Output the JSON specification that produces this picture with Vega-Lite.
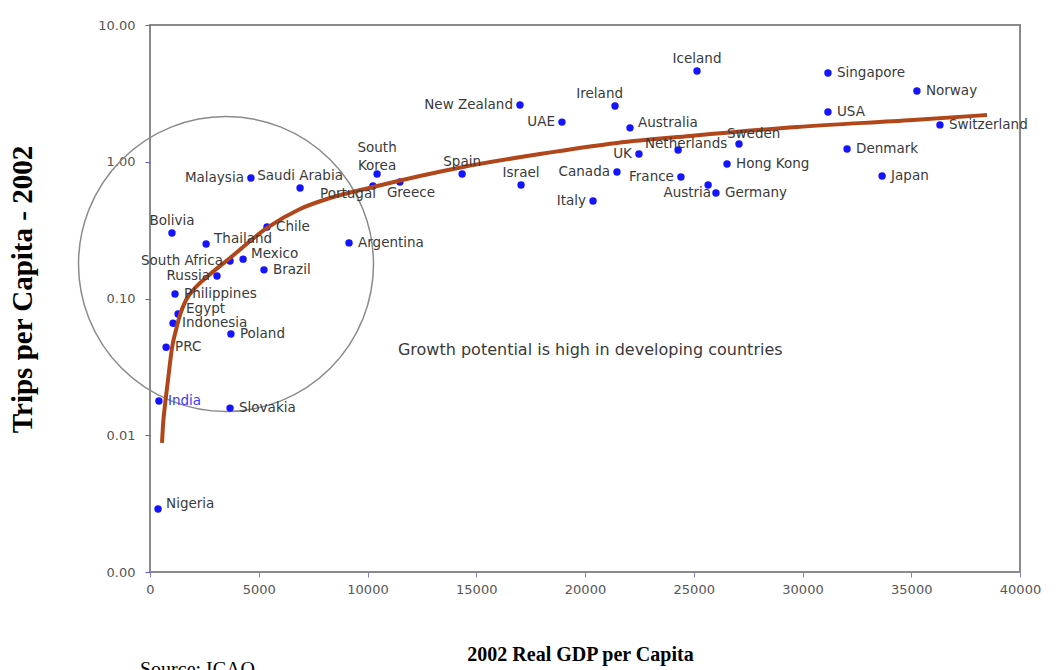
{
  "$schema": "https://vega.github.io/schema/vega-lite/v6.json",
  "width": 870,
  "height": 547,
  "autosize": {"type": "none"},
  "padding": {"left": 150, "top": 25, "right": 40, "bottom": 98},
  "background": "white",
  "title": {"text": "Source: ICAO", "orient": "bottom", "anchor": "start", "frame": "group", "font": "Liberation Serif", "fontSize": 20, "fontWeight": "normal", "color": "#000000", "offset": -4, "dx": -10},
  "config": {
    "view": {"stroke": "#8a8a8a", "strokeWidth": 2},
    "axis": {"grid": false, "domain": false}
  },
  "datasets": {
    "countries": [
      {"country": "Iceland", "gdp": 25150, "trips": 4.61, "side": "a"},
      {"country": "Singapore", "gdp": 31170, "trips": 4.46, "side": "r"},
      {"country": "Norway", "gdp": 35260, "trips": 3.29, "side": "r"},
      {"country": "New Zealand", "gdp": 17010, "trips": 2.60, "side": "l"},
      {"country": "Ireland", "gdp": 21380, "trips": 2.56, "side": "al"},
      {"country": "USA", "gdp": 31170, "trips": 2.31, "side": "r"},
      {"country": "UAE", "gdp": 18940, "trips": 1.95, "side": "l"},
      {"country": "Australia", "gdp": 22070, "trips": 1.77, "side": "ru"},
      {"country": "Switzerland", "gdp": 36320, "trips": 1.86, "side": "r"},
      {"country": "Sweden", "gdp": 27080, "trips": 1.35, "side": "ar"},
      {"country": "Netherlands", "gdp": 24280, "trips": 1.22, "side": "am"},
      {"country": "UK", "gdp": 22480, "trips": 1.14, "side": "l"},
      {"country": "Denmark", "gdp": 32050, "trips": 1.24, "side": "r"},
      {"country": "Hong Kong", "gdp": 26530, "trips": 0.963, "side": "r"},
      {"country": "Canada", "gdp": 21470, "trips": 0.841, "side": "l"},
      {"country": "France", "gdp": 24410, "trips": 0.774, "side": "l"},
      {"country": "Japan", "gdp": 33660, "trips": 0.787, "side": "r"},
      {"country": "Austria", "gdp": 25660, "trips": 0.676, "side": "bl"},
      {"country": "Germany", "gdp": 26020, "trips": 0.591, "side": "r"},
      {"country": "Italy", "gdp": 20370, "trips": 0.516, "side": "l"},
      {"country": "Israel", "gdp": 17060, "trips": 0.676, "side": "a"},
      {"country": "Spain", "gdp": 14350, "trips": 0.814, "side": "a"},
      {"country": "Greece", "gdp": 11490, "trips": 0.711, "side": "br"},
      {"country": "Portugal", "gdp": 10250, "trips": 0.665, "side": "bl"},
      {"country": "South Korea", "gdp": 10440, "trips": 0.814, "side": "a2"},
      {"country": "Saudi Arabia", "gdp": 6900, "trips": 0.643, "side": "a"},
      {"country": "Malaysia", "gdp": 4640, "trips": 0.761, "side": "l"},
      {"country": "Argentina", "gdp": 9150, "trips": 0.255, "side": "r"},
      {"country": "Chile", "gdp": 5380, "trips": 0.333, "side": "r"},
      {"country": "Bolivia", "gdp": 1010, "trips": 0.301, "side": "a"},
      {"country": "Thailand", "gdp": 2580, "trips": 0.250, "side": "ru"},
      {"country": "Mexico", "gdp": 4280, "trips": 0.194, "side": "ru"},
      {"country": "South Africa", "gdp": 3680, "trips": 0.188, "side": "l"},
      {"country": "Brazil", "gdp": 5240, "trips": 0.162, "side": "r"},
      {"country": "Russia", "gdp": 3080, "trips": 0.146, "side": "l"},
      {"country": "Philippines", "gdp": 1150, "trips": 0.108, "side": "r"},
      {"country": "Egypt", "gdp": 1290, "trips": 0.077, "side": "ru"},
      {"country": "Indonesia", "gdp": 1060, "trips": 0.066, "side": "r"},
      {"country": "Poland", "gdp": 3720, "trips": 0.055, "side": "r"},
      {"country": "PRC", "gdp": 740, "trips": 0.044, "side": "r"},
      {"country": "India", "gdp": 410, "trips": 0.0178, "side": "r"},
      {"country": "Slovakia", "gdp": 3680, "trips": 0.0158, "side": "r"},
      {"country": "Nigeria", "gdp": 370, "trips": 0.00289, "side": "ru"}
    ],
    "fit": [
      {"gdp": 552, "trips": 0.00878},
      {"gdp": 598, "trips": 0.01189},
      {"gdp": 690, "trips": 0.01664},
      {"gdp": 828, "trips": 0.02535},
      {"gdp": 1011, "trips": 0.04345},
      {"gdp": 1195, "trips": 0.05884},
      {"gdp": 1379, "trips": 0.07572},
      {"gdp": 1655, "trips": 0.0975},
      {"gdp": 2069, "trips": 0.1193},
      {"gdp": 2667, "trips": 0.1461},
      {"gdp": 3678, "trips": 0.1978},
      {"gdp": 5379, "trips": 0.3279},
      {"gdp": 6897, "trips": 0.4514},
      {"gdp": 8276, "trips": 0.5431},
      {"gdp": 10253, "trips": 0.6536},
      {"gdp": 14391, "trips": 0.9155},
      {"gdp": 17931, "trips": 1.1394},
      {"gdp": 21471, "trips": 1.3714},
      {"gdp": 24828, "trips": 1.5427},
      {"gdp": 29747, "trips": 1.7955},
      {"gdp": 35080, "trips": 2.0198},
      {"gdp": 38483, "trips": 2.1976}
    ],
    "ring": [{"gdp": 3494, "trips": 0.1788}],
    "note": [{"gdp": 11400, "trips": 0.042, "text": "Growth potential is high in developing countries"}]
  },
  "encoding": {
    "x": {
      "field": "gdp", "type": "quantitative",
      "scale": {"domain": [0, 40000], "nice": false, "zero": false},
      "axis": {
        "title": "2002 Real GDP per Capita",
        "values": [0, 5000, 10000, 15000, 20000, 25000, 30000, 35000, 40000],
        "format": "d", "labelFlush": false,
        "labelFont": "DejaVu Sans", "labelFontSize": 13, "labelColor": "#555555", "labelPadding": 6,
        "tickColor": "#7f7fd0", "tickSize": 5,
        "titleFont": "Liberation Serif", "titleFontSize": 20, "titleFontWeight": "bold", "titleColor": "#000000", "titlePadding": 48, "titleX": 430
      }
    },
    "y": {
      "field": "trips", "type": "quantitative",
      "scale": {"type": "log", "domain": [0.001, 10], "nice": false},
      "axis": {
        "title": "Trips per Capita - 2002",
        "values": [0.001, 0.01, 0.1, 1, 10],
        "format": ".2f", "labelFlush": false,
        "labelFont": "DejaVu Sans", "labelFontSize": 13, "labelColor": "#555555", "labelPadding": 10,
        "tickColor": "#5a5aff", "tickSize": 5,
        "titleFont": "Liberation Serif", "titleFontSize": 29, "titleFontWeight": "bold", "titleColor": "#000000", "titlePadding": 60, "titleY": 264
      }
    }
  },
  "layer": [
    {"data": {"name": "ring"}, "mark": {"type": "point", "shape": "circle", "filled": false, "size": 87025, "stroke": "#8a8a8a", "strokeWidth": 1.5, "opacity": 1}},
    {"data": {"name": "countries"}, "mark": {"type": "point", "shape": "circle", "filled": true, "size": 55, "color": "#1414ff", "opacity": 1}},
    {"data": {"name": "fit"}, "mark": {"type": "line", "color": "#b0461a", "strokeWidth": 4, "interpolate": "monotone"}},
    {"data": {"name": "countries"}, "transform": [{"filter": "datum.side === 'r'"}],
     "mark": {"type": "text", "align": "left", "baseline": "middle", "dx": 9, "dy": 0, "font": "DejaVu Sans", "fontSize": 13.5},
     "encoding": {"text": {"field": "country"}, "color": {"condition": {"test": "datum.country === 'India'", "value": "#3a3aff"}, "value": "#3a3a3a"}}},
    {"data": {"name": "countries"}, "transform": [{"filter": "datum.side === 'ru'"}],
     "mark": {"type": "text", "align": "left", "baseline": "middle", "dx": 8, "dy": -5, "font": "DejaVu Sans", "fontSize": 13.5, "color": "#3a3a3a"},
     "encoding": {"text": {"field": "country"}}},
    {"data": {"name": "countries"}, "transform": [{"filter": "datum.side === 'l'"}],
     "mark": {"type": "text", "align": "right", "baseline": "middle", "dx": -7, "dy": 0, "font": "DejaVu Sans", "fontSize": 13.5, "color": "#3a3a3a"},
     "encoding": {"text": {"field": "country"}}},
    {"data": {"name": "countries"}, "transform": [{"filter": "datum.side === 'a'"}],
     "mark": {"type": "text", "align": "center", "baseline": "bottom", "dx": 0, "dy": -5, "font": "DejaVu Sans", "fontSize": 13.5, "color": "#3a3a3a"},
     "encoding": {"text": {"field": "country"}}},
    {"data": {"name": "countries"}, "transform": [{"filter": "datum.side === 'am'"}],
     "mark": {"type": "text", "align": "center", "baseline": "middle", "dx": 8, "dy": -6, "font": "DejaVu Sans", "fontSize": 13.5, "color": "#3a3a3a"},
     "encoding": {"text": {"field": "country"}}},
    {"data": {"name": "countries"}, "transform": [{"filter": "datum.side === 'a2'"}],
     "mark": {"type": "text", "align": "center", "baseline": "bottom", "dx": 0, "dy": -19, "lineBreak": " ", "lineHeight": 18, "font": "DejaVu Sans", "fontSize": 13.5, "color": "#3a3a3a"},
     "encoding": {"text": {"field": "country"}}},
    {"data": {"name": "countries"}, "transform": [{"filter": "datum.side === 'al'"}],
     "mark": {"type": "text", "align": "right", "baseline": "bottom", "dx": 8, "dy": -5, "font": "DejaVu Sans", "fontSize": 13.5, "color": "#3a3a3a"},
     "encoding": {"text": {"field": "country"}}},
    {"data": {"name": "countries"}, "transform": [{"filter": "datum.side === 'ar'"}],
     "mark": {"type": "text", "align": "left", "baseline": "bottom", "dx": -12, "dy": -3, "font": "DejaVu Sans", "fontSize": 13.5, "color": "#3a3a3a"},
     "encoding": {"text": {"field": "country"}}},
    {"data": {"name": "countries"}, "transform": [{"filter": "datum.side === 'bl'"}],
     "mark": {"type": "text", "align": "right", "baseline": "top", "dx": 3, "dy": 1, "font": "DejaVu Sans", "fontSize": 13.5, "color": "#3a3a3a"},
     "encoding": {"text": {"field": "country"}}},
    {"data": {"name": "countries"}, "transform": [{"filter": "datum.side === 'br'"}],
     "mark": {"type": "text", "align": "left", "baseline": "top", "dx": -13, "dy": 4, "font": "DejaVu Sans", "fontSize": 13.5, "color": "#3a3a3a"},
     "encoding": {"text": {"field": "country"}}},
    {"data": {"name": "note"}, "mark": {"type": "text", "align": "left", "baseline": "middle", "font": "DejaVu Sans", "fontSize": 16, "color": "#3a3a3a"},
     "encoding": {"text": {"field": "text"}}}
  ]
}
